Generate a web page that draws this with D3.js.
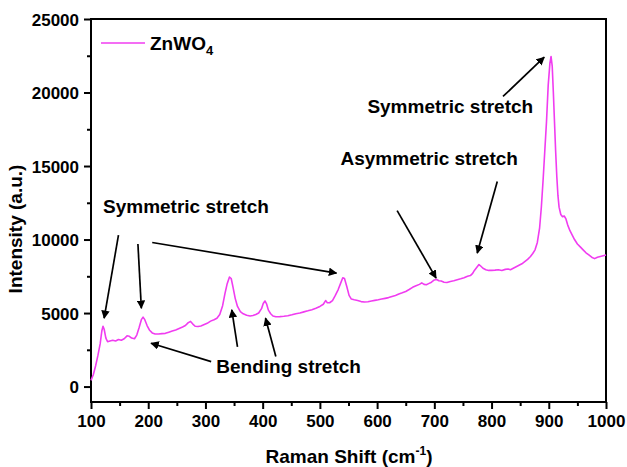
<!DOCTYPE html>
<head>
  <meta charset="utf-8">
  <script src="https://d3js.org/d3.v7.min.js"></script>
  <style>
    body { margin: 0; background: #fff; }
    text { font-family: "Liberation Sans", Arial, sans-serif; font-weight: 700; fill: #000; }
    .tick text { font-size: 17px; }
    text.note { font-size: 19px; }
    text.axisTitle { font-size: 19px; }
    text.legend { font-size: 19px; }
    path.domain { display: none; }
  </style>
</head>
<body>
  <script>
    // spectrum
    var ramanShift = [100, 104, 108, 112, 116, 119, 121, 123, 126, 129, 133, 138, 143, 148, 153, 158, 163, 167, 171, 176,
      180, 184, 188, 191, 194, 198, 202, 207, 212, 218, 224, 230, 236, 242, 248, 254, 260, 265, 270, 274,
      278, 282, 287, 292, 297, 303, 309, 315, 320, 325, 330, 334, 338, 342, 345, 348, 352, 356, 361, 366,
      372, 378, 383, 388, 393, 398, 401, 404, 407, 410, 414, 418, 423, 430, 437, 444, 451, 458, 465, 472,
      479, 486, 493, 500, 506, 510, 513, 517, 522, 527, 532, 536, 540, 543, 547, 551, 555, 560, 566, 572,
      578, 584, 590, 596, 602, 608, 614, 620, 626, 632, 638, 644, 650, 656, 662, 668, 674, 678, 682, 686,
      690, 695, 700, 704, 708, 712, 717, 722, 728, 734, 740, 746, 752, 758, 763, 767, 770, 774, 778, 781,
      785, 790, 795, 800, 806, 812, 818, 824, 829, 833, 838, 843, 848, 853, 858, 863, 868, 872, 876, 880,
      884, 887, 890, 893, 896, 899, 902, 904, 906, 908, 910, 912, 914, 916, 918, 921, 924, 927, 930, 933,
      937, 941, 945, 950, 955, 960, 965, 970, 975, 980, 985, 990, 995, 1000];
    var intensity = [420, 800, 1400, 2100, 2900, 3800, 4100, 3900, 3300, 3050, 3100, 3150, 3100, 3200, 3150, 3250, 3450, 3420, 3300, 3250,
      3500, 4000, 4550, 4720, 4550, 4150, 3850, 3650, 3580, 3570, 3600, 3620, 3700, 3780, 3850, 3950, 4050, 4150, 4350, 4430,
      4250, 4100, 4080, 4120, 4200, 4300, 4450, 4550, 4650, 4900, 5500, 6300, 7000, 7450, 7350, 6800, 6000, 5450, 5100, 4950,
      4850, 4800, 4830, 4900, 5000, 5300, 5650, 5820, 5600, 5200, 4950, 4800, 4750, 4760, 4780, 4820, 4880, 4950, 5000, 5080,
      5150, 5230, 5330, 5450, 5600, 5850, 5700, 5700, 5850, 6200, 6600, 7000, 7400, 7350, 6800, 6200, 5950, 5900, 5850, 5780,
      5750, 5770, 5820, 5860, 5900, 5950, 6000, 6050, 6130, 6200, 6300, 6380, 6470, 6600, 6750, 6850, 6950, 7050, 6950, 6920,
      7000, 7100, 7250, 7280, 7200, 7180, 7100, 7080, 7150, 7200, 7270, 7330, 7400, 7500, 7550, 7700, 7900, 8100, 8300, 8200,
      8050, 7950, 7900, 7900, 7920, 7950, 7900, 7970, 8000, 7950, 8050, 8150, 8250, 8350, 8500, 8650, 8850, 9050, 9300, 9800,
      10800, 12200, 14000, 16000, 18000, 20500, 22000, 22450, 21800, 20000, 18000, 16000, 14300, 13000, 12200, 11700, 11550, 11600, 11400, 11000,
      10600, 10300, 10000, 9700, 9500, 9300, 9100, 8950, 8800, 8700, 8800, 8850, 8900, 8950];

    var xTicks = [100, 200, 300, 400, 500, 600, 700, 800, 900, 1000];
    var yTicks = [0, 5000, 10000, 15000, 20000, 25000];

    // annotation labels, in data units
    var noteText = ['Symmetric stretch', 'Symmetric stretch', 'Asymmetric stretch', 'Bending stretch'];
    var noteX = [121, 583, 536, 319];
    var noteY = [11800, 18600, 15100, 930];

    // arrows: tail -> head, in data units
    var arrowX1 = [148, 182, 207, 310, 356, 423, 635, 810, 820];
    var arrowY1 = [10300, 9700, 9800, 1700, 2700, 2040, 11970, 13950, 19730];
    var arrowX2 = [123, 188, 529, 205, 346, 405, 703, 775, 892];
    var arrowY2 = [4650, 5330, 7720, 2950, 5220, 4650, 7380, 9080, 22400];

    var width = 627, height = 467;
    var margin = { top: 19, right: 21, bottom: 65, left: 91 };

    var svg = d3.select('body').append('svg')
      .attr('width', width)
      .attr('height', height);

    var x = d3.scaleLinear().domain([100, 1000]).range([margin.left, width - margin.right]);
    var y = d3.scaleLinear().domain([-1050, 25000]).range([height - margin.bottom, margin.top]);

    svg.append('defs').append('marker')
      .attr('id', 'head')
      .attr('viewBox', '0 0 10 10')
      .attr('refX', 9).attr('refY', 5)
      .attr('markerWidth', 5).attr('markerHeight', 5)
      .attr('markerUnits', 'strokeWidth')
      .attr('orient', 'auto')
      .append('path')
      .attr('d', 'M0,0 L10,5 L0,10 z')
      .style('fill', '#000');

    // minor ticks
    svg.append('g')
      .attr('transform', `translate(0, ${height - margin.bottom})`)
      .call(d3.axisBottom(x).tickValues(d3.range(150, 1000, 100)).tickSize(4).tickFormat(''));
    svg.append('g')
      .attr('transform', `translate(${margin.left}, 0)`)
      .call(d3.axisLeft(y).tickValues(d3.range(2500, 25000, 5000)).tickSize(4).tickFormat(''));

    // major ticks
    svg.append('g')
      .attr('transform', `translate(0, ${height - margin.bottom})`)
      .call(d3.axisBottom(x).tickValues(xTicks).tickSize(7).tickPadding(6).tickFormat(d3.format('d')));
    var yAxis = svg.append('g')
      .attr('transform', `translate(${margin.left}, 0)`)
      .call(d3.axisLeft(y).tickValues(yTicks).tickSize(7).tickPadding(5).tickFormat(d3.format('d')));
    svg.selectAll('.tick line').style('stroke-width', 2);
    svg.selectAll('.tick text').style('font-family', '"Liberation Sans", Arial, sans-serif');
    yAxis.selectAll('.tick text').attr('dy', '0.36em');

    // frame
    svg.append('rect')
      .attr('x', margin.left)
      .attr('y', margin.top)
      .attr('width', width - margin.left - margin.right)
      .attr('height', height - margin.top - margin.bottom)
      .style('fill', 'none')
      .style('stroke', '#000')
      .style('stroke-width', 2);

    var line = d3.line()
      .x((d, i) => x(ramanShift[i]))
      .y(d => y(d));

    svg.append('path')
      .datum(intensity)
      .attr('d', line)
      .style('fill', 'none')
      .style('stroke', '#f03cf0')
      .style('stroke-width', 1.6)
      .style('stroke-linejoin', 'round');

    // arrows
    svg.selectAll('line.arrow')
      .data(arrowX1)
      .enter()
      .append('line')
      .attr('class', 'arrow')
      .attr('x1', (d, i) => x(arrowX1[i]))
      .attr('y1', (d, i) => y(arrowY1[i]))
      .attr('x2', (d, i) => x(arrowX2[i]))
      .attr('y2', (d, i) => y(arrowY2[i]))
      .style('stroke', '#000')
      .style('stroke-width', 1.7)
      .attr('marker-end', 'url(#head)');

    svg.selectAll('text.note')
      .data(noteText)
      .enter()
      .append('text')
      .attr('class', 'note')
      .attr('x', (d, i) => x(noteX[i]))
      .attr('y', (d, i) => y(noteY[i]))
      .text(d => d);

    // legend
    svg.append('line')
      .attr('x1', 101).attr('x2', 145)
      .attr('y1', 43).attr('y2', 43)
      .style('stroke', '#f03cf0')
      .style('stroke-width', 1.6);
    var leg = svg.append('text')
      .attr('class', 'legend')
      .attr('x', 150)
      .attr('y', 50)
      .text('ZnWO');
    leg.append('tspan')
      .attr('dy', 5)
      .style('font-size', '13px')
      .text('4');

    // axis titles
    svg.append('text')
      .attr('class', 'axisTitle')
      .attr('transform', 'translate(22, 229) rotate(-90)')
      .style('text-anchor', 'middle')
      .text('Intensity (a.u.)');

    var xt = svg.append('text')
      .attr('class', 'axisTitle')
      .attr('x', 349)
      .attr('y', 463)
      .style('text-anchor', 'middle')
      .text('Raman Shift (cm');
    xt.append('tspan').attr('dy', -8).style('font-size', '12px').text('-1');
    xt.append('tspan').attr('dy', 8).text(')');
  </script>
</body>
